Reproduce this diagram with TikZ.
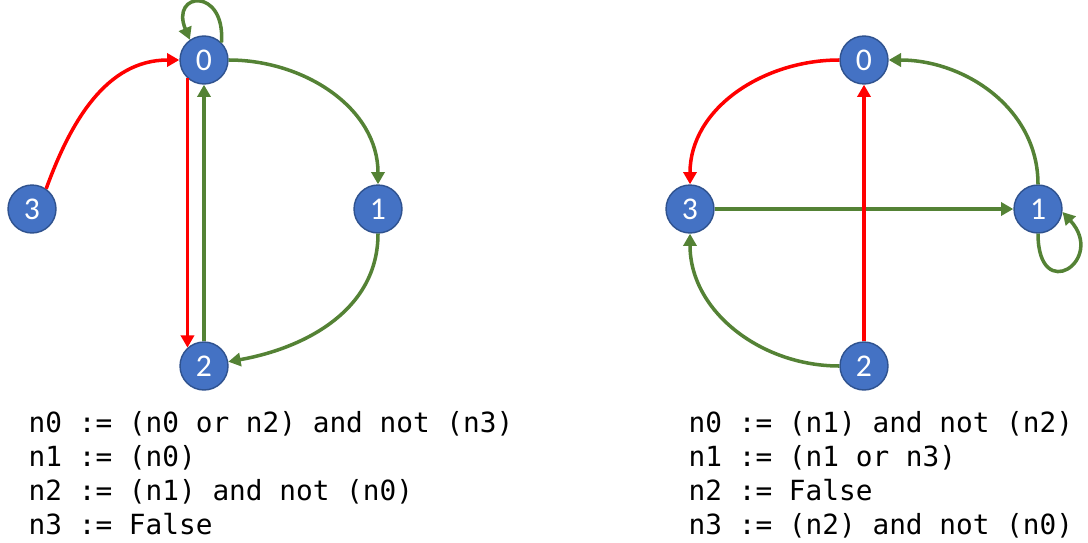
\documentclass[tikz,border=0pt]{standalone}
\usepackage{fontspec}
\setmonofont{DejaVu Sans Mono}
\newfontfamily\genefont{Carlito}
\usetikzlibrary{arrows.meta}

\definecolor{geneblue}{HTML}{4472C4}
\definecolor{geneedge}{HTML}{2F528F}
\definecolor{actgreen}{HTML}{548235}
\definecolor{inhred}{HTML}{FF0000}

\tikzset{
  gene/.style={circle, fill=geneblue, draw=geneedge, line width=0.8pt,
    minimum size=0.96cm, inner sep=0pt, text=white,
    font=\genefont\fontsize{18}{18}\selectfont},
  act/.style={draw=actgreen, line width=2pt, -{Triangle[length=7pt,width=7.5pt]}},
  inh/.style={draw=inhred, line width=2pt, -{Triangle[length=7pt,width=7.5pt]}},
  rule/.style={anchor=base west, inner sep=0pt,
    font=\ttfamily\fontsize{15.8}{19}\selectfont}
}

\begin{document}
\begin{tikzpicture}[x=0.02cm, y=0.02cm, thick]
  \useasboundingbox (0,0) rectangle (1088,542);

  % -- Left network --
  \node[gene] (a0) at (204,482) {0};
  \node[gene] (a1) at (378,333) {1};
  \node[gene] (a2) at (204,176) {2};
  \node[gene] (a3) at (32,333) {3};

  \draw[inh] (a3.55) to[out=70, in=180] (a0);
  \draw[inh] (a0.228) -- (a2.132);
  \draw[act] (a2.north) -- (a0.south);
  \draw[act] (a0) to[out=0, in=90] (a1);
  \draw[act] (a1) to[out=270, in=10] (a2);
  \draw[act] (a0.45) .. controls +(4,56) and +(-20,48) .. (a0.125);

  % -- Right network --
  \node[gene] (b0) at (864,482) {0};
  \node[gene] (b1) at (1038,333) {1};
  \node[gene] (b2) at (864,176) {2};
  \node[gene] (b3) at (690,333) {3};

  \draw[inh] (b0) to[out=180, in=90] (b3);
  \draw[act] (b1) to[out=90, in=0] (b0);
  \draw[act] (b3) -- (b1);
  \draw[inh] (b2) -- (b0);
  \draw[act] (b2) to[out=180, in=270] (b3);
  \draw[act] (b1.270) .. controls +(0,-72) and +(44,-48) .. (b1.353);

  % -- Update rules --
  \foreach \txt [count=\i] in {{n0 := (n0 or n2) and not (n3)}, {n1 := (n0)},
      {n2 := (n1) and not (n0)}, {n3 := False}} {
    \node[rule] (ra\i) at (28,144-34*\i) {\txt};
  }
  \foreach \txt [count=\i] in {{n0 := (n1) and not (n2)}, {n1 := (n1 or n3)},
      {n2 := False}, {n3 := (n2) and not (n0)}} {
    \node[rule] (rb\i) at (688,144-34*\i) {\txt};
  }

\end{tikzpicture}
\end{document}
